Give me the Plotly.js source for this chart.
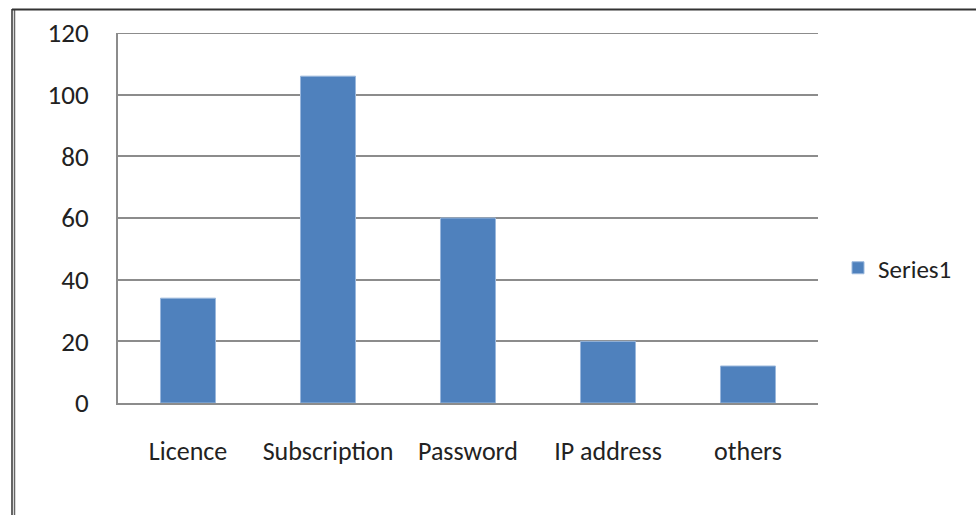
<!DOCTYPE html>
<html><head><meta charset="utf-8">
<script src="https://cdn.plot.ly/plotly-3.0.1.min.js"></script>
<style>html,body{margin:0;padding:0;background:#fff;}#chart{width:976px;height:515px;}</style>
</head><body><div id="chart"></div>
<script>
const categories = ["Licence", "Subscription", "Password", "IP address", "others"];
const series1 = [34, 106, 60, 20, 12];
const yTicks = [0, 20, 40, 60, 80, 100, 120];

const W = 976, H = 515, L = 118, R = 158, T = 33, B = 112;
const pw = W - L - R, ph = H - T - B;
const px = x => (x - L) / pw;
const py = y => (H - B - y) / ph;
const font = "Carlito, 'Liberation Sans Narrow', Roboto, sans-serif";

Plotly.newPlot("chart", [{
  type: "bar", x: categories, y: series1, name: "Series1",
  marker: {color: "#4f81bd", line: {color: "#9bb8dc", width: 1}},
  showlegend: true
}], {
  width: W, height: H,
  margin: {l: L, r: R, t: T, b: B, pad: 0},
  paper_bgcolor: "#fff", plot_bgcolor: "#fff",
  font: {family: font, size: 25, color: "#222"},
  bargap: 0.607,
  xaxis: {showgrid: false, showline: true, linecolor: "#8c8c8c", linewidth: 2,
          ticks: "", ticklabelstandoff: 24, tickfont: {size: 26}},
  yaxis: {range: [0, 120], tickvals: yTicks, showgrid: true, gridcolor: "#8c8c8c", gridwidth: 1.8,
          showline: true, linecolor: "#8c8c8c", linewidth: 2, zeroline: false,
          ticks: "", ticklabelstandoff: 22, tickfont: {size: 27}},
  legend: {x: px(838), y: py(268), xanchor: "left", yanchor: "middle",
           font: {size: 25}, bgcolor: "rgba(0,0,0,0)"},
  shapes: [
    {type: "line", xref: "paper", yref: "y", x0: 0, x1: 1, y0: 120, y1: 120, line: {color: "#8c8c8c", width: 1.8}},
    {type: "line", xref: "paper", yref: "paper", x0: px(12), x1: px(12), y0: py(9), y1: py(520), line: {color: "#333", width: 1.5}},
    {type: "line", xref: "paper", yref: "paper", x0: px(14.5), x1: px(14.5), y0: py(9), y1: py(520), line: {color: "#666", width: 1.5}},
    {type: "line", xref: "paper", yref: "paper", x0: px(12), x1: px(980), y0: py(9.5), y1: py(9.5), line: {color: "#333", width: 2}}
  ]
}, {displayModeBar: false, staticPlot: true});
</script></body></html>
